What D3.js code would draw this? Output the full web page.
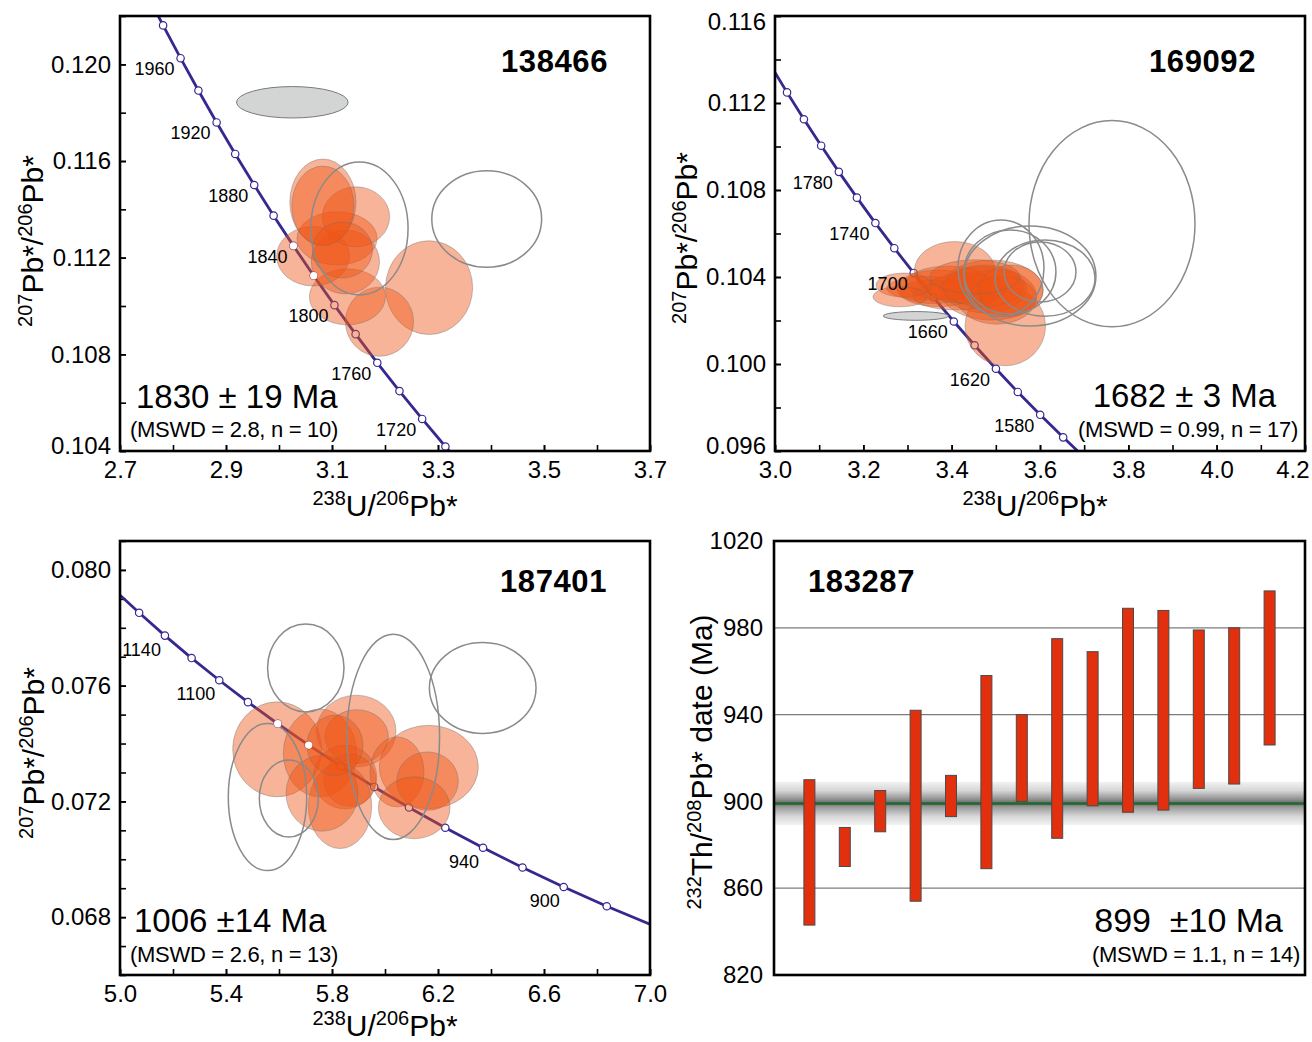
<!DOCTYPE html>
<html><head><meta charset="utf-8">
<script src="https://cdn.jsdelivr.net/npm/d3@7"></script>
<style>
body{margin:0;background:#fff}
svg{display:block}
text{font-family:"Liberation Sans",Arial,Helvetica,sans-serif;fill:#000}
</style>
</head><body>
<svg id="chart" width="1312" height="1042"></svg>
<script>
// ---------------- DATA ----------------
// Panel 1 : 138466
const p1Title = "138466";
const p1Result = "1830 ± 19 Ma";
const p1Mswd = "(MSWD = 2.8, n = 10)";
const p1XTickLabels = [2.7, 2.9, 3.1, 3.3, 3.5, 3.7];
const p1YTickLabels = [0.104, 0.108, 0.112, 0.116, 0.120];
const p1MarkerAges = [1980,1960,1940,1920,1900,1880,1860,1840,1820,1800,1780,1760,1740,1720,1700];
const p1LabelAges = [1960,1920,1880,1840,1800,1760,1720];
const p1TopMarkers = [1840,1820];
const p1LineEnds = [2000,1690];
// ellipses: [x, y, halfWidthX, halfWidthY]
const p1Filled = [
  [3.2832,0.11076,0.0822,0.00194],
  [3.1896,0.10935,0.0643,0.00143],
  [3.1291,0.11038,0.0718,0.00116],
  [3.0643,0.11206,0.0688,0.00123],
  [3.1095,0.11280,0.0756,0.00110],
  [3.1253,0.11182,0.0643,0.00132],
  [3.1452,0.11369,0.0635,0.00124],
  [3.0828,0.11430,0.0624,0.00178],
  [3.0828,0.11414,0.0586,0.00165],
  [3.1197,0.11232,0.0567,0.00116]
];
const p1Open = [
  [3.1518,0.11321,0.0917,0.00275],
  [3.3919,0.11360,0.1036,0.00200]
];
const p1Gray = [[3.0251,0.11843,0.1053,0.00065]];

// Panel 2 : 169092
const p2Title = "169092";
const p2Result = "1682 ± 3 Ma";
const p2Mswd = "(MSWD = 0.99, n = 17)";
const p2XTickLabels = [3.0, 3.2, 3.4, 3.6, 3.8, 4.0, 4.2];
const p2YTickLabels = [0.096, 0.100, 0.104, 0.108, 0.112, 0.116];
const p2MarkerAges = [1840,1820,1800,1780,1760,1740,1720,1700,1680,1660,1640,1620,1600,1580,1560];
const p2LabelAges = [1780,1740,1700,1660,1620,1580];
const p2TopMarkers = [];
const p2LineEnds = [1860,1540];
const p2Filled = [
  [3.4068,0.10429,0.0912,0.00134],
  [3.5214,0.10174,0.0912,0.00182],
  [3.4906,0.10340,0.1170,0.00138],
  [3.4754,0.10345,0.0944,0.00110],
  [3.5019,0.10309,0.0906,0.00126],
  [3.3434,0.10348,0.0906,0.00054],
  [3.3697,0.10348,0.0944,0.00084],
  [3.3577,0.10332,0.0747,0.00054],
  [3.3917,0.10372,0.0951,0.00078],
  [3.4075,0.10313,0.0951,0.00064],
  [3.4340,0.10348,0.0906,0.00069],
  [3.4709,0.10355,0.0906,0.00092],
  [3.2921,0.10363,0.0634,0.00055],
  [3.5162,0.10309,0.0747,0.00092],
  [3.5343,0.10340,0.0724,0.00115],
  [3.2830,0.10309,0.0611,0.00046],
  [3.4528,0.10401,0.1019,0.00078]
];
const p2Open = [
  [3.7630,0.10645,0.1879,0.00474],
  [3.5117,0.10441,0.0974,0.00221],
  [3.5773,0.10405,0.1494,0.00230],
  [3.5320,0.10423,0.1041,0.00193],
  [3.6113,0.10395,0.1132,0.00175],
  [3.6000,0.10423,0.0815,0.00138]
];
const p2Gray = [[3.3188,0.10221,0.0736,0.00020]];

// Panel 3 : 187401
const p3Title = "187401";
const p3Result = "1006 ±14 Ma";
const p3Mswd = "(MSWD = 2.6, n = 13)";
const p3XTickLabels = [5.0, 5.4, 5.8, 6.2, 6.6, 7.0];
const p3YTickLabels = [0.068, 0.072, 0.076, 0.080];
const p3MarkerAges = [1160,1140,1120,1100,1080,1060,1040,1020,1000,980,960,940,920,900,880];
const p3LabelAges = [1140,1100,940,900];
const p3TopMarkers = [1060,1040];
const p3LineEnds = [1180,850];
const p3Filled = [
  [5.5932,0.07380,0.1679,0.00164],
  [5.7547,0.07367,0.1385,0.00152],
  [5.8917,0.07443,0.1498,0.00124],
  [5.8932,0.07424,0.1196,0.00093],
  [5.8491,0.07284,0.1196,0.00110],
  [5.8679,0.07273,0.0981,0.00090],
  [5.8302,0.07184,0.1196,0.00147],
  [5.7623,0.07228,0.1358,0.00131],
  [6.1653,0.07319,0.1868,0.00144],
  [6.0453,0.07302,0.1019,0.00121],
  [6.1604,0.07270,0.1162,0.00101],
  [6.1102,0.07178,0.1351,0.00107],
  [5.8113,0.07394,0.1057,0.00104]
];
const p3Open = [
  [5.7011,0.07661,0.1442,0.00152],
  [6.0313,0.07423,0.1747,0.00355],
  [6.3687,0.07592,0.2011,0.00157],
  [5.5566,0.07215,0.1479,0.00254],
  [5.6370,0.07210,0.1113,0.00133]
];
const p3Gray = [];

// Panel 4 : 183287  (232Th/208Pb* dates)
const p4Title = "183287";
const p4Result = "899  ±10 Ma";
const p4Mswd = "(MSWD = 1.1, n = 14)";
const p4YTickLabels = [820, 860, 900, 940, 980, 1020];
const p4GridLines = [860, 900, 940, 980];
const p4Low  = [843, 870, 886, 854, 893, 869, 900, 883, 898, 895, 896, 906, 908, 926];
const p4High = [910, 888, 905, 942, 912, 958, 940, 975, 969, 989, 988, 979, 980, 997];
const p4Mean = 899;
const p4Band = [889, 909];

// ---------------- HELPERS ----------------
const L238 = 1.55125e-10, L235 = 9.8485e-10, U85 = 137.88;
function teraWasserburg(ageMa){
  const t = ageMa*1e6;
  const e8 = Math.exp(L238*t)-1, e5 = Math.exp(L235*t)-1;
  return [1/e8, e5/e8/U85];
}

const svg = d3.select("#chart");
svg.append("rect").attr("width",1312).attr("height",1042).attr("fill","#fff");
const defs = svg.append("defs");

const FONT_TICK = 24;
const CONC = "#35288f";

function richText(g, x, y, parts, size, supSize, anchor, rotate){
  const t = g.append("text").attr("x",x).attr("y",y)
    .attr("font-size",size).attr("text-anchor",anchor);
  if(rotate) t.attr("transform",`rotate(-90,${x},${y})`);
  let up = false;
  const shift = Math.round(size*0.36);
  parts.forEach(([s,sup])=>{
    const ts = t.append("tspan").text(s);
    if(sup){ ts.attr("font-size",supSize); if(!up){ ts.attr("dy",-shift); up=true; } }
    else if(up){ ts.attr("dy",shift); up=false; }
  });
  return t;
}

function styleAxis(g){
  g.select(".domain").remove();
  g.selectAll(".tick line").attr("stroke","#000").attr("stroke-width",1.6);
  g.selectAll(".tick text").attr("font-size",FONT_TICK)
    .attr("font-family",'"Liberation Sans",Arial,Helvetica,sans-serif').attr("fill","#000");
  g.attr("font-family",null).attr("font-size",null);
}

function concordiaPanel(c){
  const g = svg.append("g");
  const x = d3.scaleLinear().domain(c.xd).range([c.left,c.right]);
  const y = d3.scaleLinear().domain(c.yd).range([c.bottom,c.top]);
  const clipId = "clip"+c.id;
  defs.append("clipPath").attr("id",clipId).append("rect")
    .attr("x",c.left).attr("y",c.top).attr("width",c.right-c.left).attr("height",c.bottom-c.top);

  const nx = Math.round((c.xd[1]-c.xd[0])/c.xStep), ny = Math.round((c.yd[1]-c.yd[0])/c.yStep);
  const xMinor = d3.range(nx+1).map(i=>c.xd[0]+i*c.xStep);
  const yMinor = d3.range(ny+1).map(i=>c.yd[0]+i*c.yStep);
  const gxm = g.append("g").attr("transform",`translate(0,${c.bottom})`)
    .call(d3.axisBottom(x).tickValues(xMinor).tickSizeInner(-6).tickSizeOuter(0).tickFormat(""));
  styleAxis(gxm);
  const gx = g.append("g").attr("transform",`translate(0,${c.bottom})`)
    .call(d3.axisBottom(x).tickValues(c.xLabels).tickSizeInner(-6).tickSizeOuter(0).tickPadding(10).tickFormat(d3.format(".1f")));
  styleAxis(gx);
  if(c.lastXEnd){
    gx.selectAll(".tick text").filter(d=>Math.abs(d-c.xd[1])<1e-9).attr("text-anchor","end").attr("dx",c.lastXEnd);
  }
  const gym = g.append("g").attr("transform",`translate(${c.left},0)`)
    .call(d3.axisLeft(y).tickValues(yMinor).tickSizeInner(-6).tickSizeOuter(0).tickFormat(""));
  styleAxis(gym);
  const gy = g.append("g").attr("transform",`translate(${c.left},0)`)
    .call(d3.axisLeft(y).tickValues(c.yLabels).tickSizeInner(-6).tickSizeOuter(0).tickPadding(9).tickFormat(d3.format(".3f")));
  styleAxis(gy);
  gy.selectAll(".tick text").each(function(d){
    if(Math.abs(d-c.yd[0])<1e-9) d3.select(this).attr("y",-5);
    if(Math.abs(d-c.yd[1])<1e-9) d3.select(this).attr("y",6);
  });

  const plot = g.append("g").attr("clip-path",`url(#${clipId})`);
  const lineAges = [c.lineEnds[0], ...c.markers, c.lineEnds[1]];
  const pts = lineAges.map(teraWasserburg);
  plot.append("path").attr("d", d3.line().x(d=>x(d[0])).y(d=>y(d[1]))(pts))
    .attr("fill","none").attr("stroke",CONC).attr("stroke-width",2.8);
  plot.selectAll(".mk").data(c.markers.map(teraWasserburg)).join("circle")
    .attr("cx",d=>x(d[0])).attr("cy",d=>y(d[1])).attr("r",3.7)
    .attr("fill","#fff").attr("stroke",CONC).attr("stroke-width",1.2);
  c.labels.forEach(a=>{
    const p = teraWasserburg(a);
    g.append("text").attr("x",x(p[0])+c.labDx).attr("y",y(p[1])+c.labDy)
      .attr("text-anchor","end").attr("font-size",18).text(a);
  });
  const ell = (sel,data)=> sel.selectAll(null).data(data).join("ellipse")
    .attr("cx",d=>x(d[0])).attr("cy",d=>y(d[1]))
    .attr("rx",d=>Math.abs(x(d[0]+d[2])-x(d[0]))).attr("ry",d=>Math.abs(y(d[1]+d[3])-y(d[1])));
  ell(plot,c.gray).attr("fill","#d3d5d5").attr("stroke","#7a7a7a").attr("stroke-width",1);
  ell(plot,c.filled).attr("fill","rgb(238,84,20)").attr("fill-opacity",0.44)
    .attr("stroke","rgba(110,110,110,0.4)").attr("stroke-width",1);
  ell(plot,c.open).attr("fill","none").attr("stroke","#8a8a8a").attr("stroke-width",1.5);
  plot.selectAll(".tm").data(c.topMarkers.map(teraWasserburg)).join("circle")
    .attr("cx",d=>x(d[0])).attr("cy",d=>y(d[1])).attr("r",3.7).attr("fill","#fff");

  g.append("rect").attr("x",c.left).attr("y",c.top).attr("width",c.right-c.left).attr("height",c.bottom-c.top)
    .attr("fill","none").attr("stroke","#000").attr("stroke-width",2.6);

  g.append("text").attr("x",c.titleX).attr("y",c.titleY).attr("text-anchor",c.titleAnchor)
    .attr("font-size",31).attr("font-weight","bold").attr("letter-spacing",0.6).text(c.title);
  g.append("text").attr("x",c.resX).attr("y",c.resY).attr("text-anchor",c.resAnchor)
    .attr("font-size",33).style("white-space","pre").text(c.result);
  g.append("text").attr("x",c.msX).attr("y",c.msY).attr("text-anchor",c.resAnchor)
    .attr("font-size",22).attr("letter-spacing",-0.3).text(c.mswd);
  richText(g,(c.left+c.right)/2+c.xlabDx,c.xlabY,[["238",1],["U/",0],["206",1],["Pb*",0]],30,20,"middle",false);
  richText(g,c.ylabX,c.ylabY,[["207",1],["Pb*/",0],["206",1],["Pb*",0]],30,20,"middle",true);
}

concordiaPanel({id:1,left:120,right:650,top:16,bottom:451,xd:[2.7,3.7],yd:[0.104,0.122],xStep:0.1,yStep:0.002,
  xLabels:p1XTickLabels,yLabels:p1YTickLabels,markers:p1MarkerAges,labels:p1LabelAges,topMarkers:p1TopMarkers,lineEnds:p1LineEnds,
  filled:p1Filled,open:p1Open,gray:p1Gray,labDx:-6,labDy:17,
  title:p1Title,titleX:608,titleY:72,titleAnchor:"end",result:p1Result,resX:136,resY:408,resAnchor:"start",
  mswd:p1Mswd,msX:130,msY:437,xlabDx:0,xlabY:516,ylabX:43,ylabY:241});
concordiaPanel({id:2,left:775,right:1305,top:16,bottom:451,xd:[3.0,4.2],yd:[0.096,0.116],xStep:0.1,yStep:0.002,
  xLabels:p2XTickLabels,yLabels:p2YTickLabels,markers:p2MarkerAges,labels:p2LabelAges,topMarkers:p2TopMarkers,lineEnds:p2LineEnds,
  filled:p2Filled,open:p2Open,gray:p2Gray,labDx:-6,labDy:17,lastXEnd:4,
  title:p2Title,titleX:1256,titleY:72,titleAnchor:"end",result:p2Result,resX:1276,resY:407,resAnchor:"end",
  mswd:p2Mswd,msX:1298,msY:437,xlabDx:-5,xlabY:516,ylabX:697,ylabY:238});
concordiaPanel({id:3,left:120,right:650,top:541,bottom:975,xd:[5.0,7.0],yd:[0.066,0.081],xStep:0.2,yStep:0.001,
  xLabels:p3XTickLabels,yLabels:p3YTickLabels,markers:p3MarkerAges,labels:p3LabelAges,topMarkers:p3TopMarkers,lineEnds:p3LineEnds,
  filled:p3Filled,open:p3Open,gray:p3Gray,labDx:-4,labDy:20,
  title:p3Title,titleX:607,titleY:592,titleAnchor:"end",result:p3Result,resX:134,resY:932,resAnchor:"start",
  mswd:p3Mswd,msX:130,msY:962,xlabDx:0,xlabY:1036,ylabX:44,ylabY:753});

// ---------------- Panel 4 ----------------
(function(){
  const left=774,right=1305,top=541,bottom=975;
  const g = svg.append("g");
  const x = d3.scaleLinear().domain([0,p4Low.length+1]).range([left,right]);
  const y = d3.scaleLinear().domain([820,1020]).range([bottom,top]);
  const grad = defs.append("linearGradient").attr("id","band").attr("x1",0).attr("y1",0).attr("x2",0).attr("y2",1);
  [[0,"#f2f2f2"],[0.2,"#d6d6d6"],[0.42,"#8a8a8a"],[0.5,"#6e6e6e"],[0.58,"#9a9a9a"],[0.8,"#d8d8d8"],[1,"#f4f4f4"]]
    .forEach(([o,col])=>grad.append("stop").attr("offset",o).attr("stop-color",col));
  g.append("rect").attr("x",left).attr("width",right-left)
    .attr("y",y(p4Band[1])).attr("height",y(p4Band[0])-y(p4Band[1])).attr("fill","url(#band)");
  g.selectAll(".grid").data(p4GridLines).join("line")
    .attr("x1",left).attr("x2",right).attr("y1",d=>y(d)).attr("y2",d=>y(d))
    .attr("stroke","#7c7c7c").attr("stroke-width",1.2);
  g.append("line").attr("x1",left).attr("x2",right).attr("y1",y(p4Mean)).attr("y2",y(p4Mean))
    .attr("stroke","#1d6a2c").attr("stroke-width",2.6);
  g.selectAll(".bar").data(p4Low).join("rect")
    .attr("x",(d,i)=>x(i+1)-5.5).attr("width",11)
    .attr("y",(d,i)=>y(p4High[i])).attr("height",(d,i)=>y(d)-y(p4High[i]))
    .attr("fill","#e2300f").attr("stroke","#4a4a4a").attr("stroke-width",1);
  const gy = g.append("g").attr("transform",`translate(${left},0)`)
    .call(d3.axisLeft(y).tickValues(p4YTickLabels).tickSize(0).tickPadding(11).tickFormat(d3.format("d")));
  styleAxis(gy);
  g.append("rect").attr("x",left).attr("y",top).attr("width",right-left).attr("height",bottom-top)
    .attr("fill","none").attr("stroke","#000").attr("stroke-width",2.6);
  g.append("text").attr("x",808).attr("y",592).attr("font-size",31).attr("font-weight","bold")
    .attr("letter-spacing",0.6).text(p4Title);
  g.append("text").attr("x",1283).attr("y",932).attr("text-anchor","end").attr("font-size",34)
    .style("white-space","pre").text(p4Result);
  g.append("text").attr("x",1300).attr("y",962).attr("text-anchor","end").attr("font-size",22)
    .attr("letter-spacing",-0.3).text(p4Mswd);
  richText(g,712,762,[["232",1],["Th/",0],["208",1],["Pb* date (Ma)",0]],30,20,"middle",true);
})();
</script>
</body></html>
